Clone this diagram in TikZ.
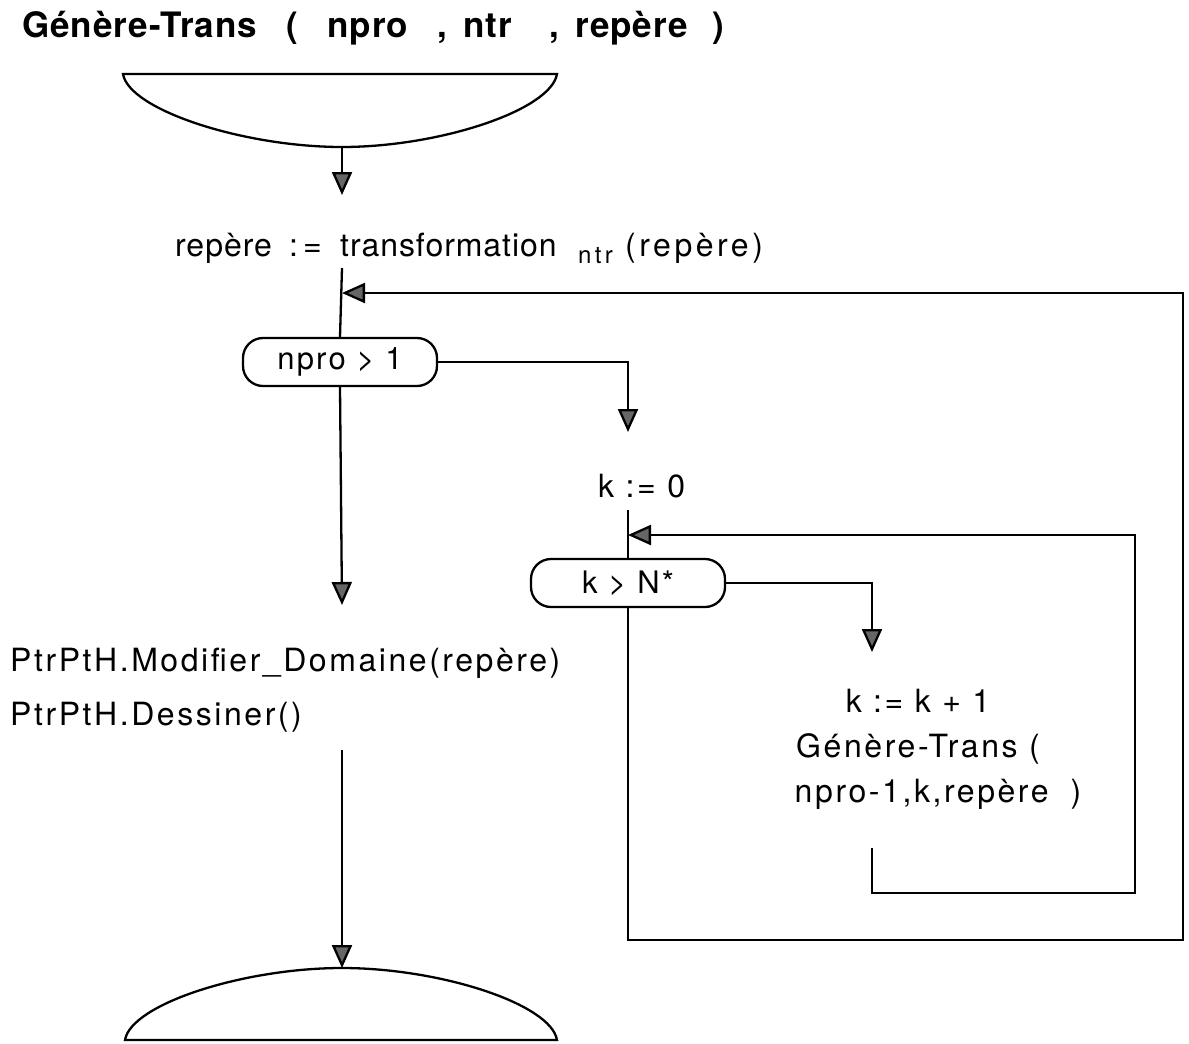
\documentclass[tikz,border=0pt]{standalone}
\usepackage{fontspec}
\setmainfont{TeX Gyre Heros}
\usetikzlibrary{arrows.meta}
\newcommand{\bodyfont}{\fontsize{32}{36}\selectfont\addfontfeatures{LetterSpace=8}}
\newcommand{\testfont}{\fontsize{31}{36}\selectfont\addfontfeatures{LetterSpace=7}}
\newcommand{\pc}[2]{\makebox[#1pt][l]{#2}}
\begin{document}
\begin{tikzpicture}[x=1pt,y=-1pt,
  wire/.style={line width=2.3pt},
  flow/.style={wire,-{Triangle[length=23pt,width=20pt,fill=black!60]}},
  lbl/.style={inner sep=0pt,anchor=base west,font=\bodyfont},
  clbl/.style={inner sep=0pt,anchor=base,font=\bodyfont},
  test/.style={draw,line width=2.3pt,rounded corners=20pt,minimum width=194pt,
    minimum height=48pt,inner sep=0pt,font=\testfont}]
\useasboundingbox (0,0) rectangle (1189,1044);

% heading: procedure name and its three parameters
\node[inner sep=0pt,anchor=base west,font=\fontsize{35}{40}\selectfont\bfseries\addfontfeatures{LetterSpace=3}] (title) at (22,37)
  {\pc{264}{Génère-Trans}\pc{41}{(}\pc{110}{npro}\pc{26}{,}\pc{86}{ntr}\pc{26}{,}\pc{137}{repère})};

% start terminator
\draw[wire] (123,74) -- (557,74) .. controls (551,110) and (440,147) .. (342,147)
  coordinate (start) .. controls (244,147) and (129,110) .. (123,74) -- cycle;

% first assignment
\node[inner sep=0pt,anchor=base west,font=\fontsize{32}{36}\selectfont\addfontfeatures{LetterSpace=3}] (trans) at (175,256)
  {\pc{114}{repère}\pc{51}{:\kern5pt=}\pc{238}{transformation}\pc{47}{\raisebox{-7pt}{\fontsize{24}{24}\selectfont\addfontfeatures{LetterSpace=14}ntr}}{\addfontfeatures{LetterSpace=11}(repère)}};
\coordinate (transout) at (342,268);

% tests
\node[test] (t1) at (340,362) {npro > 1};
\node[lbl] (kinit) at (598,497) {k := 0};
\coordinate (kout) at (628,510);
\node[test] (t2) at (628,583) {k > N*};

% loop body
\node[clbl] (b1) at (918,712) {k := k + 1};
\node[clbl] (b2) at (918,757) {Génère-Trans (};
\node[clbl] (b3) at (938,802) {npro-1,k,repère\hspace*{22pt})};
\coordinate (bout) at (872,848);

% drawing calls
\node[lbl] (modif) at (10,671) {PtrPtH.Modifier\_Domaine(repère)};
\node[lbl] (dess) at (10,725) {PtrPtH.Dessiner()};
\coordinate (dout) at (342,750);

% end terminator
\draw[wire] (125,1040) -- (557,1040) .. controls (551,1004) and (440,968) .. (342,968)
  coordinate (stop) .. controls (244,968) and (131,1004) .. (125,1040) -- cycle;

% arrival points
\coordinate (inA) at (342,195);
\coordinate (inK) at (628,432);
\coordinate (inB) at (872,652);
\coordinate (inM) at (342,605);
\coordinate (outer) at (342,293);
\coordinate (inner) at (628,535);

% connectors
\draw[flow] (start) -- (inA);
\draw[wire] (transout) -- (t1.north);
\draw[flow] (t1.east) -| (inK);
\draw[wire] (kout) -- (t2.north);
\draw[flow] (t2.east) -| (inB);
\draw[flow] (t1.south) -- (inM);
\draw[flow] (dout) -- (stop);
\draw[flow] (bout) |- (1135,893) |- (inner);
\draw[flow] (t2.south) |- (1183,940) |- (outer);
\end{tikzpicture}
\end{document}
